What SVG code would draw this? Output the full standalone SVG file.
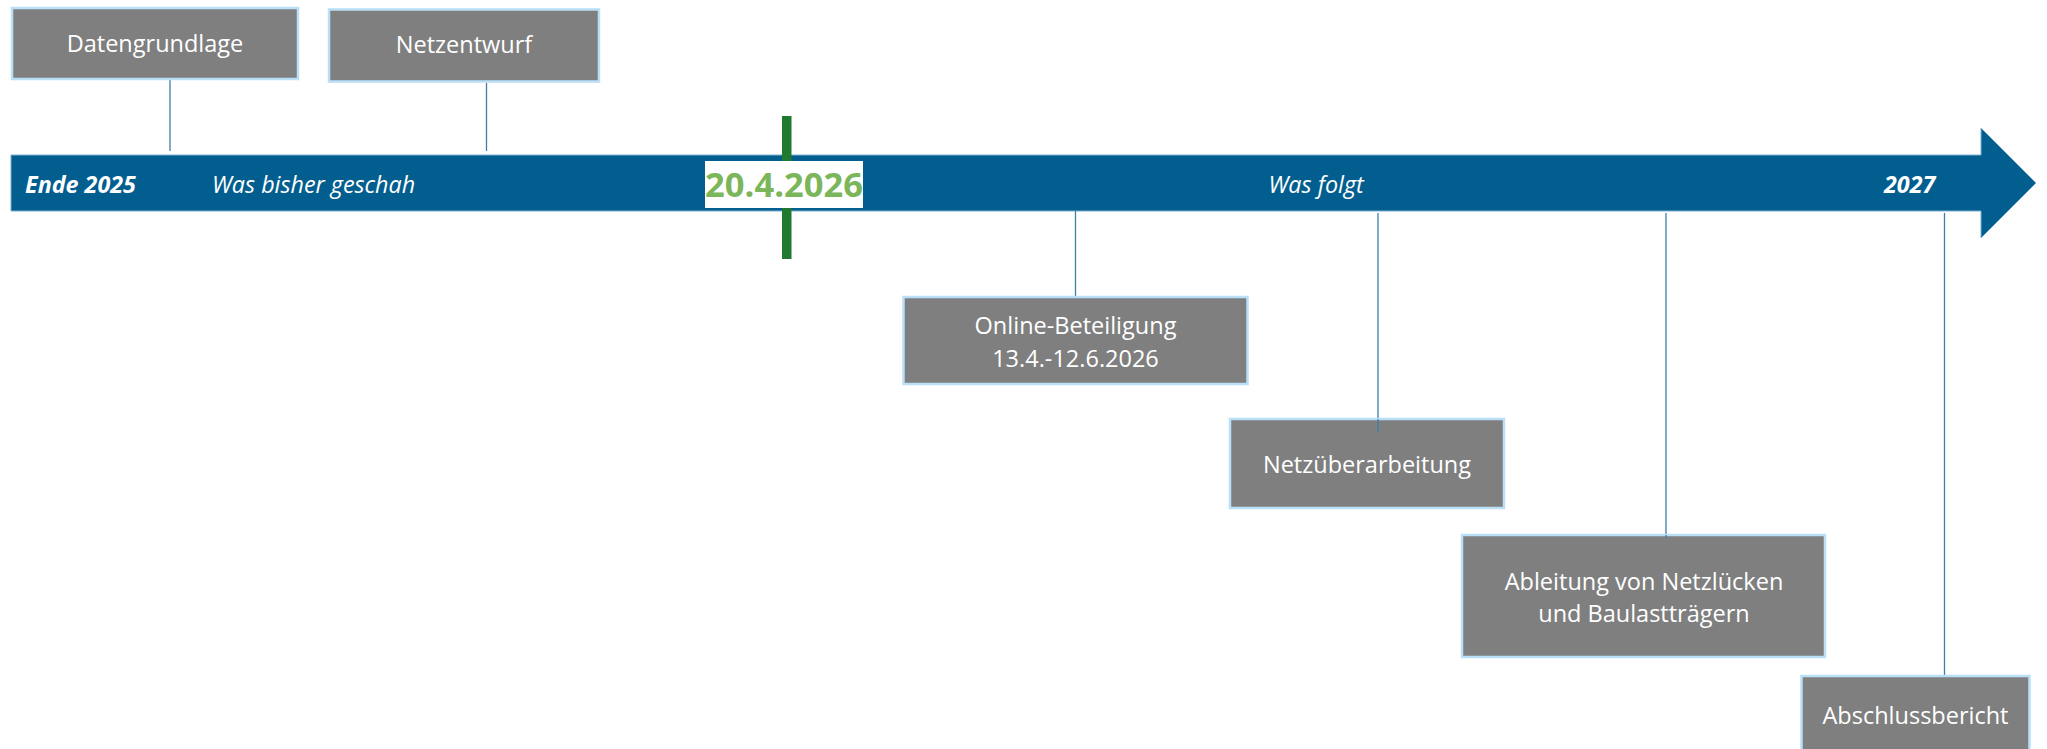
<svg xmlns="http://www.w3.org/2000/svg" width="2047" height="749" viewBox="0 0 2047 749">
<style>
.box{fill:#7F7F7F;stroke:#B9E0F7;stroke-width:2.5}
.lbl{font-family:"Open Sans","DejaVu Sans",sans-serif;font-size:23.5px;fill:#FFFFFF;text-anchor:middle}
.bar{font-family:"Open Sans","DejaVu Sans",sans-serif;font-size:23.3px;fill:#FFFFFF;font-style:italic}
.b{font-weight:bold}
.con{stroke:#3D7EAA;stroke-width:1.3;fill:none}
</style>
<rect width="2047" height="749" fill="#FFFFFF"/>
<g id="timeline">
<polygon points="11,155 1981,155 1981,128 2036,183 1981,238 1981,211 11,211" fill="#025E8F" stroke="#7DB0D0" stroke-width="1"/>
<text class="bar b" x="25" y="193">Ende 2025</text>
<text class="bar" x="212" y="193">Was bisher geschah</text>
<text class="bar" x="1268.5" y="193">Was folgt</text>
<text class="bar b" x="1884" y="193">2027</text>
</g>
<g id="today">
<rect x="782" y="116" width="9.5" height="143" fill="#1F7A30"/>
<rect x="705" y="161" width="158" height="47" fill="#FFFFFF"/>
<text x="784" y="197" font-family="'Open Sans','DejaVu Sans',sans-serif" font-size="34.5" font-weight="bold" fill="#7CB65A" text-anchor="middle">20.4.2026</text>
</g>
<g id="connectors">
<line class="con" x1="170" y1="80" x2="170" y2="151"/>
<line class="con" x1="486.5" y1="83" x2="486.5" y2="151"/>
<line class="con" x1="1075.5" y1="211" x2="1075.5" y2="297"/>
<line class="con" x1="1378" y1="213" x2="1378" y2="432"/>
<line class="con" x1="1666" y1="213" x2="1666" y2="538"/>
<line class="con" x1="1944.5" y1="213" x2="1944.5" y2="678"/>
</g>
<g id="datengrundlage">
<rect class="box" x="12" y="8" width="286" height="71"/>
<text class="lbl" x="155" y="52">Datengrundlage</text>
</g>
<g id="netzentwurf">
<rect class="box" x="329" y="9.5" width="270" height="72"/>
<text class="lbl" x="464" y="53">Netzentwurf</text>
</g>
<g id="online-beteiligung">
<rect class="box" x="903.5" y="297" width="344" height="87"/>
<text class="lbl" x="1075.5" y="334">Online-Beteiligung</text>
<text class="lbl" x="1075.5" y="367">13.4.-12.6.2026</text>
</g>
<g id="netzueberarbeitung">
<rect class="box" x="1230" y="419" width="274" height="89"/>
<text class="lbl" x="1367" y="473">Netzüberarbeitung</text>
</g>
<g id="ableitung">
<rect class="box" x="1462" y="535" width="363" height="122"/>
<text class="lbl" x="1644" y="590">Ableitung von Netzlücken</text>
<text class="lbl" x="1644" y="622">und Baulastträgern</text>
</g>
<g id="abschlussbericht">
<rect class="box" x="1801.5" y="676" width="228" height="80"/>
<text class="lbl" x="1915.5" y="724">Abschlussbericht</text>
</g>
<g id="connectors-over">
<line class="con" x1="1378" y1="419" x2="1378" y2="432"/>
<line class="con" x1="1666" y1="535" x2="1666" y2="538"/>
</g>
</svg>
